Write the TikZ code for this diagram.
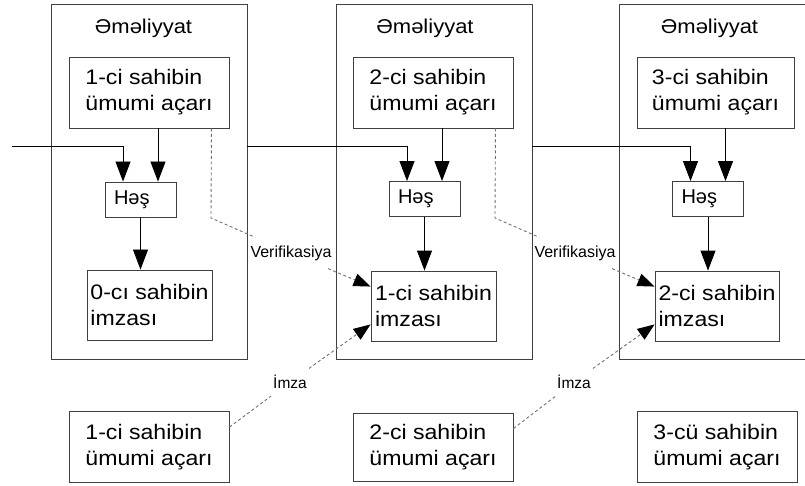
\documentclass[tikz,border=0pt]{standalone}
\usepackage{fontspec}
\setmainfont{Liberation Sans}
\newfontfamily\widefont[FakeStretch=1.1]{Liberation Sans}
\usetikzlibrary{arrows.meta}
\definecolor{linec}{HTML}{404040}
\definecolor{dashc}{HTML}{707070}
\begin{document}
\begin{tikzpicture}[x=1pt,y=-1pt,
  outer/.style={draw=linec, line width=0.9pt, inner sep=0pt, minimum width=196pt, minimum height=355pt},
  box/.style={draw=linec, line width=0.9pt, inner sep=0pt, align=left, text=black,
    font=\widefont\fontsize{21}{26}\selectfont},
  keybox/.style={box, minimum width=160pt, minimum height=71pt},
  sigbox/.style={box, minimum width=125pt, minimum height=70pt},
  hashbox/.style={draw=linec, line width=0.9pt, inner xsep=9pt, inner ysep=0pt, text width=53pt, align=left,
    minimum height=35pt, font=\fontsize{20}{22}\selectfont},
  title/.style={anchor=base, inner sep=0pt, font=\widefont\fontsize{20}{24}\selectfont},
  arr/.style={draw=black, line width=0.9pt, -{Triangle[width=15pt,length=20pt]}},
  dsh/.style={draw=dashc, line width=0.9pt, dash pattern=on 3pt off 2.5pt},
  dtip/.style={dsh, -{Triangle[width=13pt,length=17pt,black]}},
  vlab/.style={inner xsep=2pt, inner ysep=8pt, font=\fontsize{16}{18}\selectfont},
  ilab/.style={inner xsep=2pt, inner ysep=9pt, font=\fontsize{15.5}{17}\selectfont}
]
\clip (0,0) rectangle (805,486);
% outer transaction boxes
\node[outer] (o1) at (149,181.5) {};
\node[outer] (o2) at (434,181.5) {};
\node[outer] (o3) at (717,181.5) {};
\node[title] (t1) at (143.5,34) {Əməliyyat};
\node[title] (t2) at (425,34) {Əməliyyat};
\node[title] (t3) at (709.5,34) {Əməliyyat};
% key boxes
\node[keybox] (k1) at (149,92.5) {1-ci sahibin\\ümumi açarı};
\node[keybox] (k2) at (433,92.5) {2-ci sahibin\\ümumi açarı};
\node[keybox, minimum width=157pt] (k3) at (715.5,92.5) {3-ci sahibin\\ümumi açarı};
% hash boxes
\node[hashbox] (h1) at (140.5,199.5) {Həş};
\node[hashbox] (h2) at (424.5,199) {Həş};
\node[hashbox] (h3) at (708,199) {Həş};
% signature boxes
\node[sigbox] (s1) at (149.5,305) {0-cı sahibin\\imzası};
\node[sigbox] (s2) at (433.5,306) {1-ci sahibin\\imzası};
\node[sigbox, minimum width=124pt] (s3) at (717,306) {2-ci sahibin\\imzası};
% bottom key boxes
\node[keybox] (b1) at (149,447) {1-ci sahibin\\ümumi açarı};
\node[keybox, minimum height=68pt] (b2) at (433,447) {2-ci sahibin\\ümumi açarı};
\node[keybox] (b3) at (717,447) {3-cü sahibin\\ümumi açarı};
% coordinates
\coordinate (in0) at (12,146);
\foreach \i in {1,2,3}{
  \coordinate (hin\i) at ([xshift=-17.5pt]h\i.north);
  \coordinate (hk\i) at ([xshift=17.5pt]h\i.north);
}
% solid arrows
\draw[arr] (in0) -| (hin1);
\draw[arr] (o1.east |- in0) -| (hin2);
\draw[arr] (o2.east |- in0) -| (hin3);
\foreach \i in {1,2,3}{
  \draw[arr] (hk\i |- k\i.south) -- (hk\i);
  \draw[arr] (h\i.south) -- (h\i.south |- s\i.north);
}
% verification dashed arrows
\coordinate (va1) at ([xshift=-18pt]k1.south east);
\coordinate (vb1) at (211,218);
\node[vlab] (vl1) at (291,253) {Verifikasiya};
\draw[dsh] (va1) -- (vb1) -- (vl1);
\draw[dtip] (vl1) -- ([yshift=-16pt]s2.north west);
\coordinate (va2) at ([xshift=-18pt]k2.south east);
\coordinate (vb2) at (495,218);
\node[vlab] (vl2) at (575,253) {Verifikasiya};
\draw[dsh] (va2) -- (vb2) -- (vl2);
\draw[dtip] (vl2) -- ([yshift=-16pt]s3.north west);
% signature dashed arrows
\node[ilab] (il1) at (290,382) {İmza};
\draw[dsh] ([yshift=-16pt]b1.north east) -- (il1);
\draw[dtip] (il1) -- ([yshift=17pt]s2.south west);
\node[ilab] (il2) at (574,382) {İmza};
\draw[dsh] ([yshift=-16pt]b2.north east) -- (il2);
\draw[dtip] (il2) -- ([yshift=17pt]s3.south west);
\end{tikzpicture}
\end{document}
